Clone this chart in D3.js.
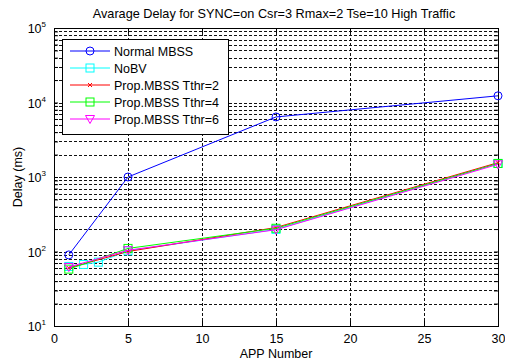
<!DOCTYPE html>
<html><head><meta charset="utf-8">
<script src="https://cdn.jsdelivr.net/npm/d3@7"></script>
<style>body{margin:0;background:#fff}svg{display:block;font-family:"Liberation Sans",Arial,sans-serif}</style>
</head><body><svg id="c" width="505" height="363"></svg>
<script>
const title = "Avarage Delay for SYNC=on Csr=3 Rmax=2 Tse=10 High Traffic";
const xLabel = "APP Number";
const yLabel = "Delay (ms)";
const xTicks = [0, 5, 10, 15, 20, 25, 30];
const yDecades = [1, 2, 3, 4, 5];
const seriesNames = ["Normal MBSS", "NoBV", "Prop.MBSS Tthr=2", "Prop.MBSS Tthr=4", "Prop.MBSS Tthr=6"];
const seriesColors = ["#0000ff", "#00ffff", "#ff0000", "#00ff00", "#ff00ff"];
const seriesMarkers = ["circle", "square", "x", "square", "triangle"];
const normalX = [1, 5, 15, 30];
const normalY = [90, 1000, 6400, 12300];
const nobvX = [1, 2, 3, 5, 15, 30];
const nobvY = [63, 67, 72, 102, 198, 1520];
const t2X = [1, 5, 15, 30];
const t2Y = [60, 100, 210, 1560];
const t4X = [1, 5, 15, 30];
const t4Y = [58, 110, 205, 1520];
const t6X = [1, 5, 15, 30];
const t6Y = [62, 104, 196, 1480];

const seriesX = [normalX, nobvX, t2X, t4X, t6X];
const seriesY = [normalY, nobvY, t2Y, t4Y, t6Y];

const svg = d3.select("#c");
const L = 54, R = 498, T = 28, B = 326;
const x = d3.scaleLinear().domain([0, 30]).range([L, R]);
const y = d3.scaleLog().domain([10, 1e5]).range([B, T]);

// grid
const g = svg.append("g");
const minor = [];
for (let d = 1; d < 5; d++) for (let m = 1; m <= 9; m++) minor.push(m * Math.pow(10, d));
minor.push(1e5);
g.selectAll("line.hg").data(minor.filter(v => v > 10 && v < 1e5)).join("line")
  .attr("x1", L).attr("x2", R).attr("y1", d => Math.round(y(d)) + 0.5).attr("y2", d => Math.round(y(d)) + 0.5)
  .attr("stroke", "#111").attr("stroke-width", 1).attr("stroke-dasharray", "3,2");
g.selectAll("line.vg").data(xTicks.filter(v => v > 0 && v < 30)).join("line")
  .attr("y1", T).attr("y2", B).attr("x1", d => Math.round(x(d)) + 0.5).attr("x2", d => Math.round(x(d)) + 0.5)
  .attr("stroke", "#111").attr("stroke-width", 1).attr("stroke-dasharray", "3,2");

// axes
const xAxis = d3.axisBottom(x).tickValues(xTicks).tickSize(-5).tickPadding(8);
const xa = svg.append("g").attr("transform", `translate(0,${B})`).call(xAxis);
const xt = svg.append("g").attr("transform", `translate(0,${T})`).call(d3.axisTop(x).tickValues(xTicks).tickSize(-5).tickFormat(""));
const yAxis = d3.axisLeft(y).tickValues(minor.concat([10])).tickSize(-4).tickFormat("");
const ya = svg.append("g").attr("transform", `translate(${L},0)`).call(yAxis);
const yr = svg.append("g").attr("transform", `translate(${R},0)`).call(d3.axisRight(y).tickValues(minor.concat([10])).tickSize(-4).tickFormat(""));
[xa, xt, ya, yr].forEach(a => {
  a.select(".domain").remove();
  a.selectAll("line").attr("stroke", "#000");
});
xa.selectAll("text").attr("font-size", 12.5).attr("fill", "#000").attr("font-family", "Liberation Sans, Arial, sans-serif");
svg.append("rect").attr("x", L + 0.5).attr("y", T + 0.5).attr("width", R - L).attr("height", B - T)
  .attr("fill", "none").attr("stroke", "#000").attr("stroke-width", 1);

// y decade labels
const yl = svg.append("g");
yDecades.forEach(d => {
  const t = yl.append("text").attr("x", 46).attr("y", y(Math.pow(10, d)) + 5).attr("text-anchor", "end")
    .attr("font-size", 12.5).attr("fill", "#000");
  t.append("tspan").text("10");
  t.append("tspan").attr("dy", -6).attr("font-size", 8).text(d);
});

// series
const line = d3.line().x(d => x(d[0])).y(d => y(d[1]));
function marker(sel, type, color, cx, cy) {
  if (type === "circle") sel.append("circle").attr("cx", cx).attr("cy", cy).attr("r", 4).attr("fill", "none").attr("stroke", color);
  else if (type === "square") sel.append("rect").attr("x", cx - 4).attr("y", cy - 4).attr("width", 8).attr("height", 8).attr("fill", "none").attr("stroke", color);
  else if (type === "triangle") sel.append("path").attr("d", `M${cx - 4.5},${cy - 3.5}L${cx + 4.5},${cy - 3.5}L${cx},${cy + 4.5}Z`).attr("fill", "none").attr("stroke", color);
  else if (type === "x") sel.append("path").attr("d", `M${cx - 2},${cy - 2}L${cx + 2},${cy + 2}M${cx - 2},${cy + 2}L${cx + 2},${cy - 2}`).attr("stroke", color);
}
seriesNames.forEach((n, i) => {
  const pts = seriesX[i].map((v, j) => [v, seriesY[i][j]]);
  const sg = svg.append("g");
  sg.append("path").attr("d", line(pts)).attr("fill", "none").attr("stroke", seriesColors[i]).attr("stroke-width", 1);
  pts.forEach(p => marker(sg, seriesMarkers[i], seriesColors[i], x(p[0]), y(p[1])));
});

// legend
const lg = svg.append("g");
lg.append("rect").attr("x", 62.5).attr("y", 39.5).attr("width", 166).attr("height", 95).attr("fill", "#fff").attr("stroke", "#000");
seriesNames.forEach((n, i) => {
  const cy = 51 + i * 17;
  lg.append("line").attr("x1", 70).attr("x2", 110).attr("y1", cy).attr("y2", cy).attr("stroke", seriesColors[i]);
  marker(lg, seriesMarkers[i], seriesColors[i], 90, cy);
  lg.append("text").attr("x", 114).attr("y", cy + 4.5).attr("font-size", 12.5).attr("fill", "#000").text(n);
});

// titles
svg.append("text").attr("x", 274).attr("y", 18).attr("text-anchor", "middle").attr("font-size", 12.7).attr("fill", "#000").text(title);
svg.append("text").attr("x", 276).attr("y", 358).attr("text-anchor", "middle").attr("font-size", 12.5).attr("fill", "#000").text(xLabel);
svg.append("text").attr("transform", "translate(22,177) rotate(-90)").attr("text-anchor", "middle").attr("font-size", 12.5).attr("fill", "#000").text(yLabel);
</script></body></html>
